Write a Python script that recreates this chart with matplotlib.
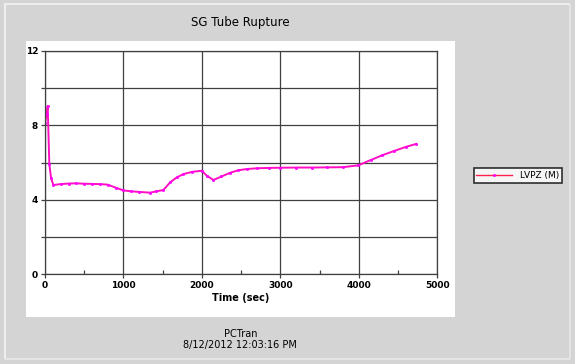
import matplotlib
matplotlib.use("Agg")
import matplotlib.pyplot as plt
from matplotlib.patches import Rectangle
from matplotlib.lines import Line2D
from matplotlib.ticker import MultipleLocator

# LVPZ (M) readings taken off the chart
time_s = [0, 20, 34, 55, 77, 106, 200, 300, 400, 500, 600, 700, 800, 900,
          1000, 1100, 1200, 1339, 1420, 1509, 1594, 1680, 1764, 1880, 1998,
          2060, 2147, 2250, 2360, 2460, 2572, 2700, 2850, 3000, 3200, 3400,
          3600, 3800, 3996, 4150, 4300, 4450, 4600, 4732]
lvpz = [8.14, 8.6, 9.04, 5.9, 5.17, 4.79, 4.84, 4.87, 4.88, 4.86, 4.85, 4.84,
        4.81, 4.65, 4.50, 4.45, 4.42, 4.38, 4.45, 4.52, 4.93, 5.2, 5.38, 5.5,
        5.56, 5.3, 5.06, 5.25, 5.45, 5.58, 5.65, 5.69, 5.71, 5.72, 5.73, 5.73,
        5.74, 5.75, 5.85, 6.13, 6.39, 6.62, 6.84, 7.0]

x_major = [0, 1000, 2000, 3000, 4000, 5000]
y_labels = [0, 4, 8, 12]

fig = plt.figure(figsize=(5.75, 3.64), dpi=100)
fig.patch.set_facecolor("#d4d4d4")

# window frame and white chart panel (behind the axes)
fig.patches.append(Rectangle((0.008, 0.014), 0.983, 0.975, transform=fig.transFigure,
                             fill=False, edgecolor="#f4f4f4", linewidth=1.2, zorder=-2))
fig.lines.append(Line2D([0.991, 0.991], [0.014, 0.989], transform=fig.transFigure,
                        color="#8a8a8a", linewidth=1.2, zorder=-2))
fig.lines.append(Line2D([0.008, 0.991], [0.014, 0.014], transform=fig.transFigure,
                        color="#8a8a8a", linewidth=1.2, zorder=-2))
fig.patches.append(Rectangle((0.0452, 0.129), 0.746, 0.758, transform=fig.transFigure,
                             facecolor="white", edgecolor="none", zorder=-1))

ax = fig.add_axes([0.0783, 0.247, 0.682, 0.613])
ax.set_facecolor("white")
ax.plot(time_s, lvpz, color="#ff10c0", linewidth=1.4, marker="s", markersize=1.0,
        markerfacecolor="#ff00ff", markeredgecolor="#ff00ff", label="LVPZ (M)")

ax.set_xlim(0, 5000)
ax.set_ylim(0, 12)
ax.set_xticks(x_major)
ax.xaxis.set_minor_locator(MultipleLocator(500))
ax.set_yticks(range(0, 13, 2))
ax.set_yticklabels([str(v) if v in y_labels else "" for v in range(0, 13, 2)])
ax.grid(True, which="major", color="#404040", linewidth=0.9)
ax.tick_params(axis="both", which="major", labelsize=6.5, length=3, width=0.9,
               color="#404040", pad=2)
ax.tick_params(axis="x", which="minor", direction="in", length=3, width=0.9,
               color="#404040")
for lab in ax.get_xticklabels() + ax.get_yticklabels():
    lab.set_fontweight("bold")
for sp in ax.spines.values():
    sp.set_color("#404040")
    sp.set_linewidth(0.9)
ax.set_xlabel("Time (sec)", fontsize=7, fontweight="bold", labelpad=2)

fig.text(0.418, 0.938, "SG Tube Rupture", ha="center", va="center", fontsize=8.5)
fig.text(0.418, 0.083, "PCTran", ha="center", va="center", fontsize=7)
fig.text(0.418, 0.053, "8/12/2012 12:03:16 PM", ha="center", va="center", fontsize=7)

leg = fig.legend(loc="center", bbox_to_anchor=(0.9, 0.518), fontsize=6.5,
                 frameon=True, fancybox=False, edgecolor="black",
                 handlelength=4, borderpad=0.3)
leg.get_frame().set_linewidth(1.2)
leg.get_lines()[0].set_color("#ff2050")
leg.get_lines()[0].set_linewidth(1.0)

fig.savefig("out.png", dpi=100, facecolor=fig.get_facecolor())
